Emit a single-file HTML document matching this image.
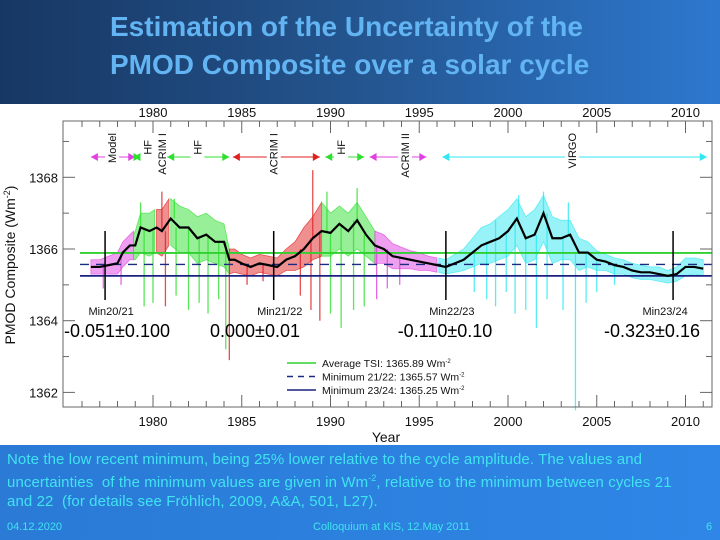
<!DOCTYPE html>
<html><head><meta charset="utf-8"><style>
body{margin:0;width:720px;height:540px;overflow:hidden;font-family:"Liberation Sans",sans-serif;position:relative;background:#fff}
#hdr{position:absolute;left:0;top:0;width:720px;height:104px;background:linear-gradient(90deg,#173763,#24558f 50%,#2d78cf)}
#hdr div{position:absolute;left:110px;color:#62b4f2;font-weight:bold;font-size:28px;line-height:34px}
#ftr{position:absolute;left:0;top:445px;width:720px;height:95px;background:linear-gradient(90deg,#2a7ad6,#2f86e6)}
#ftr .note{position:absolute;left:7px;top:5px;width:690px;color:#40e4f0;font-size:15px;line-height:19px;letter-spacing:0.1px}
#ftr .f{position:absolute;top:76px;color:#40e4f0;font-size:11px}
svg{position:absolute;left:0;top:0}
</style></head><body>
<div id="hdr">
<div style="top:10px">Estimation of the Uncertainty of the</div>
<div style="top:48px">PMOD Composite over a solar cycle</div>
</div>
<svg id="chart" width="720" height="445"></svg>
<div id="ftr">
<div class="note">Note the low recent minimum, being 25% lower relative to the cycle amplitude. The values and uncertainties&nbsp; of the minimum values are given in Wm<sup style="font-size:9px">-2</sup>, relative to the minimum between cycles 21 and 22&nbsp; (for details see Fröhlich, 2009, A&amp;A, 501, L27).</div>
<div class="f" style="left:7px">04.12.2020</div>
<div class="f" style="left:313px">Colloquium at KIS, 12.May 2011</div>
<div class="f" style="left:706px">6</div>
</div>
<script>
const years=[1976.5,1977,1977.5,1978,1978.3,1978.7,1979,1979.3,1979.8,1980.2,1980.5,1981,1981.5,1982,1982.5,1983,1983.5,1984,1984.3,1984.6,1985,1985.5,1986,1986.5,1987,1987.5,1988,1988.5,1989,1989.5,1990,1990.5,1991,1991.5,1992,1992.5,1993,1993.5,1994,1994.5,1995,1995.5,1996,1996.5,1997,1997.5,1998,1998.5,1999,1999.5,2000,2000.5,2001,2001.5,2002,2002.5,2003,2003.5,2004,2004.5,2005,2005.5,2006,2006.5,2007,2007.5,2008,2008.5,2009,2009.5,2010,2010.5,2011];
const smooth=[1365.5,1365.5,1365.55,1365.6,1365.9,1366.1,1366.1,1366.6,1366.5,1366.6,1366.5,1366.85,1366.6,1366.6,1366.3,1366.4,1366.2,1366.2,1365.7,1365.7,1365.6,1365.5,1365.6,1365.55,1365.5,1365.7,1365.8,1366.0,1366.3,1366.5,1366.45,1366.7,1366.5,1366.8,1366.4,1366.1,1366.0,1365.8,1365.75,1365.7,1365.65,1365.6,1365.55,1365.5,1365.6,1365.7,1365.9,1366.1,1366.2,1366.3,1366.5,1366.85,1366.3,1366.4,1367.0,1366.3,1366.3,1366.4,1365.9,1365.9,1365.7,1365.65,1365.55,1365.5,1365.4,1365.35,1365.35,1365.3,1365.25,1365.3,1365.5,1365.5,1365.45];
const upper=[1365.7,1365.7,1365.8,1365.9,1366.2,1366.4,1366.5,1367.0,1367.0,1367.1,1367.1,1367.4,1367.2,1367.1,1366.9,1367.0,1366.8,1366.7,1366.0,1366.0,1365.85,1365.75,1365.85,1365.8,1365.75,1366.0,1366.2,1366.6,1366.9,1367.3,1367.0,1367.2,1367.0,1367.3,1366.9,1366.5,1366.4,1366.15,1366.05,1365.95,1365.9,1365.8,1365.75,1365.7,1365.85,1366.0,1366.3,1366.6,1366.7,1366.9,1367.1,1367.4,1366.9,1367.1,1367.5,1366.9,1366.8,1366.8,1366.3,1366.2,1365.95,1365.85,1365.75,1365.7,1365.6,1365.55,1365.5,1365.5,1365.4,1365.5,1365.75,1365.75,1365.7];
const lower=[1365.3,1365.3,1365.3,1365.3,1365.5,1365.7,1365.7,1365.9,1365.8,1365.9,1365.8,1366.1,1365.9,1365.9,1365.6,1365.7,1365.6,1365.5,1365.3,1365.35,1365.3,1365.25,1365.35,1365.3,1365.25,1365.4,1365.4,1365.5,1365.7,1365.8,1365.8,1366.0,1365.8,1366.0,1365.8,1365.6,1365.6,1365.45,1365.45,1365.45,1365.4,1365.4,1365.35,1365.3,1365.35,1365.4,1365.5,1365.6,1365.6,1365.7,1365.8,1366.1,1365.6,1365.7,1366.2,1365.6,1365.7,1365.7,1365.4,1365.5,1365.4,1365.4,1365.3,1365.3,1365.2,1365.15,1365.15,1365.1,1365.05,1365.1,1365.25,1365.3,1365.25];
const spikeYears=[1977.2,1978.2,1979.5,1980.0,1980.7,1981.3,1982.0,1982.6,1983.1,1983.7,1984.1,1984.3,1985.3,1986.2,1988.3,1988.9,1989.4,1990.0,1990.6,1991.3,1991.9,1992.6,1993.2,1993.9,1998.1,1998.8,1999.3,1999.9,2000.4,2001.0,2001.6,2002.2,2003.1,2003.8,2004.4,2005.0,2006.0,1979.3,1980.5,1981.2,1989.0,1989.8,1991.5,1999.3,2000.6,2002.0,2003.4];
const spikeValues=[1364.9,1365.0,1364.4,1364.5,1364.4,1364.7,1364.3,1364.5,1364.2,1364.6,1363.2,1362.9,1365.0,1365.1,1364.7,1364.3,1364.0,1364.2,1363.8,1364.3,1364.4,1364.6,1364.9,1365.0,1364.8,1364.6,1364.4,1364.8,1364.2,1364.3,1363.8,1364.6,1364.3,1361.5,1364.5,1364.8,1365.0,1367.3,1367.6,1367.4,1368.2,1367.6,1367.7,1366.8,1367.5,1367.6,1367.3];
const segStart=[1976.5,1978.9,1980.1,1980.9,1984.3,1989.5,1992.5,1996.1];
const segEnd=[1978.9,1980.1,1980.9,1984.3,1989.5,1992.5,1996.1,2011.1];
const segColor=["#e040e0","#30e030","#e02020","#30e030","#e02020","#30e030","#e040e0","#30e8f0"];
const yTicks=[1362,1364,1366,1368];
const xTicks=[1980,1985,1990,1995,2000,2005,2010];
const avgTSI=1365.89, min2122=1365.57, min2324=1365.25;
const minYears=[1977.3,1986.8,1996.5,2009.3];
const minNames=["Min20/21","Min21/22","Min22/23","Min23/24"];
const minValues=["-0.051±0.100","0.000±0.01","-0.110±0.10","-0.323±0.16"];
const instNames=["Model","HF","ACRIM I","HF","ACRIM I","HF","ACRIM II","VIRGO"];
const instLabelX=[1977.7,1979.7,1980.5,1982.5,1986.8,1990.6,1994.2,2003.6];
const arrowStart=[1976.5,1978.9,null,1980.8,1984.5,1989.7,1992.2,1996.3];
const arrowEnd=[1979.0,1979.3,null,1984.3,1989.4,1991.9,1995.4,2011.2];

const X0=63,X1=712,Y0=121,Y1=407;
const xs=y=>153+(y-1980)*17.75;
const ys=v=>249-(v-1366)*35.85;
const svg=document.getElementById('chart');const NS='http://www.w3.org/2000/svg';
function mk(t,a,p){const e=document.createElementNS(NS,t);for(const k in a)e.setAttribute(k,a[k]);(p||svg).appendChild(e);return e;}
function colorAt(y){for(let i=0;i<segStart.length;i++)if(y>=segStart[i]&&y<segEnd[i])return segColor[i];return segColor[segColor.length-1];}
const bg=mk('rect',{x:0,y:104,width:720,height:341,fill:'#fff'});


spikeYears.forEach((y,i)=>{const k=years.reduce((b,v,j)=>Math.abs(v-y)<Math.abs(years[b]-y)?j:b,0);
 const l=mk('line',{x1:xs(y),x2:xs(y),y1:ys(smooth[k]),y2:ys(spikeValues[i]),stroke:colorAt(y),'stroke-width':1.3,'stroke-opacity':0.8});
 
 
});
segStart.forEach((s,i)=>{const e=segEnd[i];let up=[],lo=[];
 for(let k=0;k<years.length;k++){if(years[k]>=s-0.26&&years[k]<=e+0.26){const yy=Math.min(Math.max(years[k],s),e);up.push([xs(yy),ys(upper[k])]);lo.push([xs(yy),ys(lower[k])]);}}
 const pts=up.concat(lo.reverse()).map(p=>p.join(',')).join(' ');
 const p=mk('polygon',{points:pts,fill:segColor[i],'fill-opacity':0.5,stroke:segColor[i],'stroke-width':0.8,'stroke-opacity':0.7});
 
 
});
const la=mk('line',{x1:80,x2:X1,y1:ys(avgTSI),y2:ys(avgTSI),stroke:'#30d030','stroke-width':1.8});


const lb=mk('line',{x1:80,x2:X1,y1:ys(min2122),y2:ys(min2122),stroke:'#1a2a80','stroke-width':1.3,'stroke-dasharray':'9,7'});


const lc=mk('line',{x1:80,x2:X1,y1:ys(min2324),y2:ys(min2324),stroke:'#1a2080','stroke-width':1.8});


const sl=mk('polyline',{points:years.map((y,i)=>xs(y)+','+ys(smooth[i])).join(' '),fill:'none',stroke:'#000','stroke-width':2.2});


const fr=mk('rect',{x:X0,y:Y0,width:X1-X0,height:Y1-Y0,fill:'none',stroke:'#666','stroke-width':1});


for(let y=1976;y<=2011;y++){const big=y%5==0;
 mk('line',{x1:xs(y),x2:xs(y),y1:Y1,y2:Y1-(big?12:6),stroke:'#666'});
 mk('line',{x1:xs(y),x2:xs(y),y1:Y0,y2:Y0+(big?12:6),stroke:'#666'});}
for(let v=1362;v<=1369;v++){const big=v%2==0;
 mk('line',{x1:X0,x2:X0+(big?12:6),y1:ys(v),y2:ys(v),stroke:'#666'});
 mk('line',{x1:X1,x2:X1-(big?12:6),y1:ys(v),y2:ys(v),stroke:'#666'});}
xTicks.forEach(t=>{
 const a=mk('text',{x:xs(t),y:426,'font-size':13,'text-anchor':'middle',fill:'#111'});a.textContent=t;
 
 
 const b=mk('text',{x:xs(t),y:117,'font-size':13,'text-anchor':'middle',fill:'#111'});b.textContent=t;
 
 
});
yTicks.forEach(t=>{const a=mk('text',{x:58,y:ys(t)+5,'font-size':13,'text-anchor':'end',fill:'#111'});a.textContent=t;
 
 });
const yt=mk('text',{x:0,y:0,'font-size':14,'text-anchor':'middle',fill:'#111',transform:'translate(15,265) rotate(-90)'});
yt.innerHTML='PMOD Composite (Wm<tspan font-size="9" dy="-5">-2</tspan><tspan dy="5">)</tspan>';


const xt=mk('text',{x:386,y:442,'font-size':14,'text-anchor':'middle',fill:'#111'});xt.textContent='Year';


minYears.forEach((m,i)=>{
 const l=mk('line',{x1:xs(m),x2:xs(m),y1:231,y2:300,stroke:'#000','stroke-width':1.5});
 
 
 const t=mk('text',{x:xs(m)+(i==3?-8:6),y:315,'font-size':11,'text-anchor':'middle',fill:'#111'});t.textContent=minNames[i];
 
 
 const v=mk('text',{x:[117,255,445,652][i],y:337,'font-size':18,'text-anchor':'middle',fill:'#000'});v.textContent=minValues[i];
 
 
});
const AY=157;
instNames.forEach((n,i)=>{const c=segColor[i];
 if(arrowStart[i]!==null){const a=xs(arrowStart[i]),b=xs(arrowEnd[i]);
  const l=mk('line',{x1:a,x2:b,y1:AY,y2:AY,stroke:c,'stroke-width':1});
  
  
  mk('polygon',{points:`${a},${AY} ${a+7},${AY-4} ${a+7},${AY+4}`,fill:c});
  mk('polygon',{points:`${b},${AY} ${b-7},${AY-4} ${b-7},${AY+4}`,fill:c});}
 const lx=xs(instLabelX[i]);
 mk('rect',{x:lx-7,y:AY-3,width:14,height:6,fill:'#fff'});
 const t=mk('text',{x:0,y:0,'font-size':11,'text-anchor':'end',fill:'#111',transform:`translate(${lx+4},${n.length>4?133:140}) rotate(-90)`});t.textContent=n;
 
 
});
const lg=[["#30d030",null,"Average TSI: 1365.89 Wm"],["#1a2a80","6,5","Minimum 21/22: 1365.57 Wm"],["#1a2080",null,"Minimum 23/24: 1365.25 Wm"]];
lg.forEach((d,i)=>{const y=363+i*13.5;
 const l=mk('line',{x1:287,x2:316,y1:y,y2:y,stroke:d[0],'stroke-width':1.5,'stroke-dasharray':d[1]||'none'});
 
 
 const t=mk('text',{x:322,y:y+4,'font-size':10.5,fill:'#111'});t.innerHTML=d[2]+'<tspan font-size="6" dy="-4">-2</tspan>';
 
 
});
</script>
</body></html>
